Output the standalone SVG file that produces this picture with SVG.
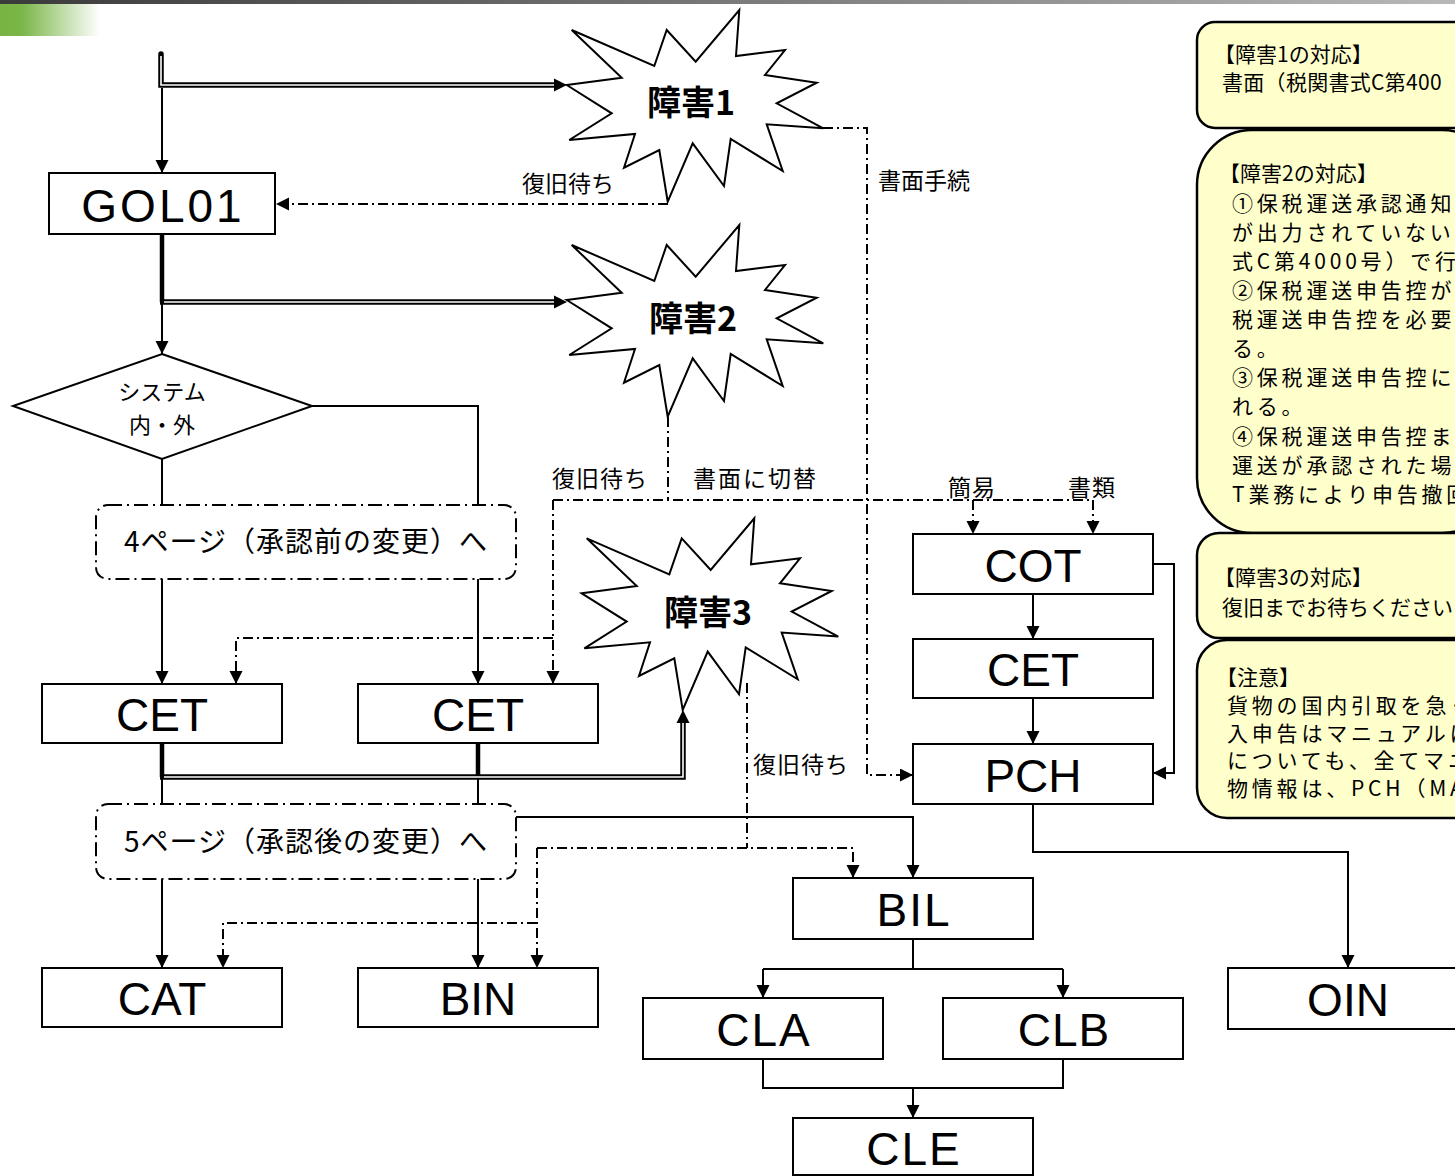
<svg xmlns="http://www.w3.org/2000/svg" width="1455" height="1176" viewBox="0 0 1455 1176">
<style>
.box{fill:#fff;stroke:#000;stroke-width:2}
.lbl{font-family:"Liberation Sans","Noto Sans CJK JP",sans-serif;font-size:46px;text-anchor:middle;fill:#000}
.jp{font-family:"Noto Sans CJK JP",sans-serif;fill:#000}
.ln{fill:none;stroke:#000;stroke-width:2}
.dd{fill:none;stroke:#000;stroke-width:2;stroke-dasharray:10 4 2 4}
.ddbox{fill:#fff;stroke:#000;stroke-width:2;stroke-dasharray:14 5 2 5}
.star{fill:#fff;stroke:#000;stroke-width:2;stroke-linejoin:miter}
.st{font-family:"Noto Sans CJK JP",sans-serif;font-size:34px;font-weight:bold;text-anchor:middle}
.note{fill:#FFFFCC;stroke:#000;stroke-width:2.5}
.nt{font-family:"Noto Sans CJK JP",sans-serif;font-size:21px;fill:#000}
.nb{font-family:"Noto Sans CJK JP",sans-serif;font-size:21px;letter-spacing:3.8px;fill:#000}
.dbo{fill:none;stroke:#000;stroke-width:5.5}
.dbi{fill:none;stroke:#fff;stroke-width:1.6}
</style>
<defs>
<linearGradient id="topbar" x1="0" y1="0" x2="1" y2="0">
<stop offset="0" stop-color="#3a3a3a"/>
<stop offset="1" stop-color="#b8b8b8"/>
</linearGradient>
<linearGradient id="green" x1="0" y1="0" x2="1" y2="0">
<stop offset="0" stop-color="#77b443"/>
<stop offset="0.22" stop-color="#7ab648"/>
<stop offset="1" stop-color="#ffffff"/>
</linearGradient>
<marker id="ah" markerWidth="14" markerHeight="14" refX="13" refY="6.5" orient="auto" markerUnits="userSpaceOnUse">
<path d="M0,0 L13,6.5 L0,13 Z" fill="#000"/>
</marker>
</defs>
<rect x="0" y="0" width="1455" height="1176" fill="#fff"/>
<rect x="0" y="0" width="1455" height="4" fill="url(#topbar)"/>
<rect x="0" y="4" width="100" height="32" fill="url(#green)"/>

<!-- notes -->
<g id="note1">
<rect class="note" x="1197" y="22" width="290" height="106" rx="18"/>
<text class="nt" x="1214" y="62">【障害1の対応】</text>
<text class="nt" x="1222" y="90" font-size="21.5" letter-spacing="0.3">書面（税関書式C第400</text>
</g>
<g id="note2">
<rect class="note" x="1197" y="130" width="300" height="403" rx="55"/>
<text class="nt" x="1219" y="181">【障害2の対応】</text>
<text class="nb" x="1232" y="211">①保税運送承認通知</text>
<text class="nb" x="1232" y="240">が出力されていない場</text>
<text class="nb" x="1232" y="269">式C第4000号）で行</text>
<text class="nb" x="1232" y="298">②保税運送申告控が</text>
<text class="nb" x="1232" y="327">税運送申告控を必要</text>
<text class="nb" x="1232" y="356">る。</text>
<text class="nb" x="1232" y="385">③保税運送申告控に</text>
<text class="nb" x="1232" y="414">れる。</text>
<text class="nb" x="1232" y="444">④保税運送申告控ま</text>
<text class="nb" x="1232" y="473">運送が承認された場</text>
<text class="nb" x="1232" y="502">T業務により申告撤回</text>
</g>
<g id="note3">
<rect class="note" x="1197" y="533" width="290" height="105" rx="22"/>
<text class="nt" x="1214" y="585">【障害3の対応】</text>
<text class="nt" x="1222" y="615" font-size="21.4">復旧までお待ちください</text>
</g>
<g id="note4">
<rect class="note" x="1197" y="640" width="290" height="178" rx="30"/>
<text class="nt" x="1216" y="685">【注意】</text>
<text class="nb" x="1227" y="713">貨物の国内引取を急ぐ</text>
<text class="nb" x="1227" y="741">入申告はマニュアルに</text>
<text class="nb" x="1227" y="768">についても、全てマニュ</text>
<text class="nb" x="1227" y="796">物情報は、PCH（MAN</text>
</g>

<!-- connectors -->
<g id="connectors">
<path class="dbo" d="M161,54 V85 H555" stroke-linecap="round"/>
<path class="dbi" d="M161,56 V85 H555"/>
<path d="M554,78.5 L567,85 L554,91.5 Z" fill="#000"/>
<path class="ln" d="M162,88 V173" marker-end="url(#ah)"/>

<path d="M162,234 V302" stroke="#000" stroke-width="4.5" fill="none"/>
<path class="dbo" d="M160,302 H555"/>
<path class="dbi" d="M164,302 H555"/>
<path d="M554,295.5 L567,302 L554,308.5 Z" fill="#000"/>
<path class="ln" d="M162,304 V354" marker-end="url(#ah)"/>

<path class="ln" d="M312,406 H478 V505"/>
<path class="ln" d="M162,459 V505"/>
<path class="ln" d="M162,579 V684" marker-end="url(#ah)"/>
<path class="ln" d="M478,579 V684" marker-end="url(#ah)"/>

<path d="M162,743 V777 M478,743 V777" stroke="#000" stroke-width="4.5" fill="none"/>
<path class="dbo" d="M160,777 H683 V722"/>
<path class="dbi" d="M164,777 H683 V722"/>
<path d="M676.5,723 L683,710 L689.5,723 Z" fill="#000"/>
<path class="ln" d="M162,779 V804 M478,779 V804"/>
<path class="ln" d="M162,879 V968" marker-end="url(#ah)"/>
<path class="ln" d="M478,879 V968" marker-end="url(#ah)"/>

<path class="ln" d="M516,817 H913 V878" marker-end="url(#ah)"/>
<path class="ln" d="M913,939 V969 M763,969 H1063"/>
<path class="ln" d="M763,969 V998" marker-end="url(#ah)"/>
<path class="ln" d="M1063,969 V998" marker-end="url(#ah)"/>
<path class="ln" d="M763,1059 V1088 H1063 V1059"/>
<path class="ln" d="M913,1088 V1118" marker-end="url(#ah)"/>

<path class="ln" d="M1033,594 V639" marker-end="url(#ah)"/>
<path class="ln" d="M1033,698 V744" marker-end="url(#ah)"/>
<path class="ln" d="M1153,564 H1174 V773 H1153" marker-end="url(#ah)"/>
<path class="ln" d="M1033,804 V852 H1348 V968" marker-end="url(#ah)"/>

<path class="dd" d="M668,204 H276" marker-end="url(#ah)"/>
<path class="dd" d="M823,128 H867 V775 H913" marker-end="url(#ah)"/>
<path class="dd" d="M668,417 V500"/>
<path class="dd" d="M553,500 H1093"/>
<path class="dd" d="M553,500 V684" marker-end="url(#ah)"/>
<path class="dd" d="M553,638 H236 V684" marker-end="url(#ah)"/>
<path class="dd" d="M973,500 V534" marker-end="url(#ah)"/>
<path class="dd" d="M1093,500 V534" marker-end="url(#ah)"/>
<path class="dd" d="M747,683 V848"/>
<path class="dd" d="M537,848 H853 V878" marker-end="url(#ah)"/>
<path class="dd" d="M537,848 V968" marker-end="url(#ah)"/>
<path class="dd" d="M537,923 H223 V968" marker-end="url(#ah)"/>

<text class="jp" x="522" y="192" font-size="23">復旧待ち</text>
<text class="jp" x="878" y="189" font-size="23">書面手続</text>
<text class="jp" x="552" y="487" font-size="23" letter-spacing="1">復旧待ち</text>
<text class="jp" x="693" y="487" font-size="23" letter-spacing="2">書面に切替</text>
<text class="jp" x="948" y="496" font-size="23" letter-spacing="1">簡易</text>
<text class="jp" x="1068" y="496" font-size="23" letter-spacing="1">書類</text>
<text class="jp" x="753" y="773" font-size="23" letter-spacing="1">復旧待ち</text>
</g>

<!-- stars -->
<g id="star1">
<polygon class="star" points="566.7,85 621.7,77.7 571.7,30 654.3,66 666.7,30 695.7,61.7 739.3,10 736,56 785,50 765,75 816.7,82.7 776.7,103.3 823.3,128.3 766.7,124.3 782.7,171 730.7,139 724,186 692.7,143.3 667.7,201.7 659.3,150 624,167.7 635,134 569.3,140 611.7,113.3"/>
<text class="st" x="691" y="115">障害1</text>
</g>
<g id="star2">
<polygon class="star" points="566.7,300 621.7,292.7 571.7,245 654.3,281 666.7,245 695.7,276.7 739.3,225 736,271 785,265 765,290 816.7,297.7 776.7,318.3 823.3,343.3 766.7,339.3 782.7,386 730.7,354 724,401 692.7,358.3 667.7,416.7 659.3,365 624,382.7 635,349 569.3,355 611.7,328.3"/>
<text class="st" x="693" y="331">障害2</text>
</g>
<g id="star3">
<polygon class="star" points="581.7,593.3 636.7,586 586.7,538.3 669.3,574.3 681.7,538.3 710.7,570 754.3,518.3 751,564.3 800,558.3 780,583.3 831.7,591 791.7,611.6 838.3,636.6 781.7,632.6 797.7,679.3 745.7,647.3 739,694.3 707.7,651.6 682.7,710 674.3,658.3 639,676 650,642.3 584.3,648.3 626.7,621.6"/>
<text class="st" x="708" y="625">障害3</text>
</g>

<!-- nodes -->
<g id="GOL01">
<rect class="box" x="49" y="173" width="226" height="61"/>
<text class="lbl" x="163" y="222" font-size="44" letter-spacing="3">GOL01</text>
</g>
<g id="decision">
<polygon class="box" points="162,354 312,406 162,459 13,406"/>
<text class="jp" x="162" y="400" font-size="22" text-anchor="middle">システム</text>
<text class="jp" x="162" y="433" font-size="22" text-anchor="middle">内・外</text>
</g>
<g id="page4">
<rect class="ddbox" x="96" y="505" width="420" height="74" rx="12"/>
<text class="jp" x="306" y="552" font-size="28" text-anchor="middle" letter-spacing="1">4ページ（承認前の変更）へ</text>
</g>
<g id="CET1">
<rect class="box" x="42" y="684" width="240" height="59"/>
<text class="lbl" x="162" y="731">CET</text>
</g>
<g id="CET2">
<rect class="box" x="358" y="684" width="240" height="59"/>
<text class="lbl" x="478" y="731">CET</text>
</g>
<g id="page5">
<rect class="ddbox" x="96" y="804" width="420" height="75" rx="12"/>
<text class="jp" x="306" y="852" font-size="28" text-anchor="middle" letter-spacing="1">5ページ（承認後の変更）へ</text>
</g>
<g id="CAT">
<rect class="box" x="42" y="968" width="240" height="59"/>
<text class="lbl" x="162" y="1015">CAT</text>
</g>
<g id="BIN">
<rect class="box" x="358" y="968" width="240" height="59"/>
<text class="lbl" x="478" y="1015">BIN</text>
</g>
<g id="COT">
<rect class="box" x="913" y="534" width="240" height="60"/>
<text class="lbl" x="1033" y="582">COT</text>
</g>
<g id="CET3">
<rect class="box" x="913" y="639" width="240" height="59"/>
<text class="lbl" x="1033" y="686">CET</text>
</g>
<g id="PCH">
<rect class="box" x="913" y="744" width="240" height="60"/>
<text class="lbl" x="1033" y="792">PCH</text>
</g>
<g id="BIL">
<rect class="box" x="793" y="878" width="240" height="61"/>
<text class="lbl" x="914" y="926" letter-spacing="2">BIL</text>
</g>
<g id="CLA">
<rect class="box" x="643" y="998" width="240" height="61"/>
<text class="lbl" x="764" y="1046" letter-spacing="2">CLA</text>
</g>
<g id="CLB">
<rect class="box" x="943" y="998" width="240" height="61"/>
<text class="lbl" x="1064" y="1046" letter-spacing="1">CLB</text>
</g>
<g id="CLE">
<rect class="box" x="793" y="1118" width="240" height="57"/>
<text class="lbl" x="914" y="1165" letter-spacing="2">CLE</text>
</g>
<g id="OIN">
<rect class="box" x="1228" y="968" width="240" height="61"/>
<text class="lbl" x="1348" y="1016">OIN</text>
</g>
</svg>
